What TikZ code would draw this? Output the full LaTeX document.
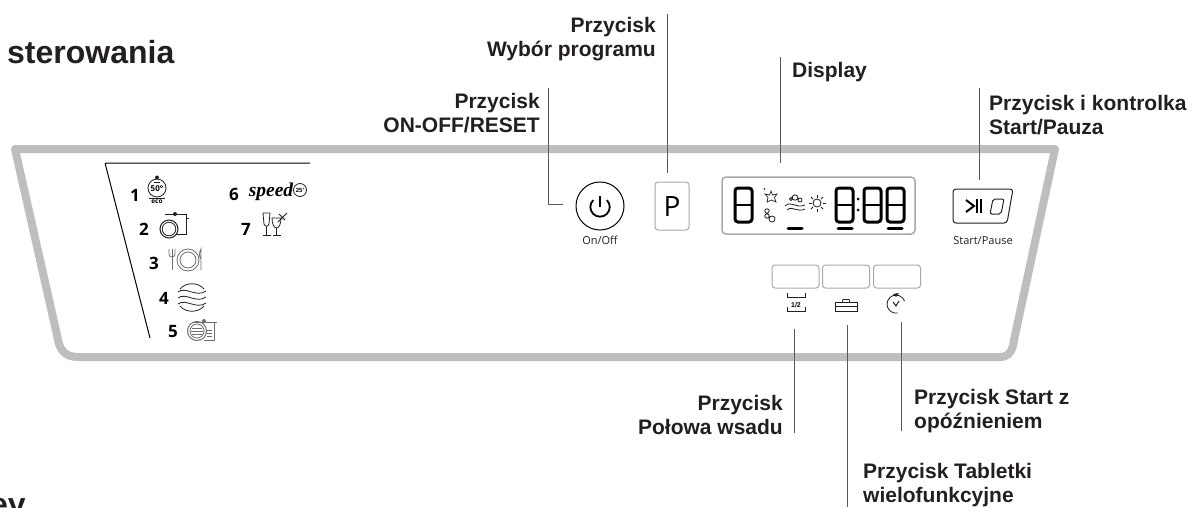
\documentclass[tikz,border=0pt]{standalone}
\usepackage{fontspec}
\setmainfont{Liberation Sans}
\newfontfamily\panelfont{Open Sans}
\newfontfamily\speedfont{Liberation Serif}
\definecolor{panelgrey}{HTML}{BCBEC0}
\definecolor{leadgrey}{HTML}{58595B}
\definecolor{iconk}{HTML}{231F20}
\definecolor{icong}{HTML}{6D6E71}
\definecolor{btn}{HTML}{A7A9AC}
\tikzset{
  lbl/.style={font=\fontsize{21}{24}\selectfont\bfseries,text=iconk,inner sep=0pt,align=#1},
  lbl/.default=left,
  leader/.style={draw=leadgrey,line width=1pt},
  num/.style={font=\panelfont\fontsize{17}{17}\selectfont\bfseries,text=black,inner sep=0pt},
  capt/.style={font=\panelfont\fontsize{11}{11}\selectfont,text=iconk,inner sep=0pt},
  pbtn/.style={draw=btn,line width=1pt,rounded corners=3pt,inner sep=0pt,minimum width=47pt,minimum height=23pt},
  ic/.style={draw=iconk,line width=.8pt},
  icg/.style={draw=icong,line width=.8pt},
}
\newcommand{\segd}[3]{% x left, width, bottom
  \draw[black,line width=3pt,rounded corners=3pt] (#1,188) rectangle (#1+#2,#3);
  \draw[black,line width=2.2pt] (#1,{(188+#3)/2}) -- (#1+#2,{(188+#3)/2});
}
\begin{document}
\begin{tikzpicture}[x=1pt,y=-1pt]
\useasboundingbox (0,0) rectangle (1192,507);
\clip (0,0) rectangle (1192,507);
\fill[white] (0,0) rectangle (1192,507);
% panel
\draw[panelgrey,line width=8pt,line join=round]
  (15,149) -- (57,335) .. controls (59,349) and (64,357) .. (78,357)
  -- (1000,357) .. controls (1009,357) and (1013,350) .. (1014,340) -- (1055,149) -- cycle;
% list bracket
\draw[black,line width=1pt,rounded corners=1pt] (310,163) -- (105,163) -- (150,338);
% numbers
\node[num] (n1) at (135,195) {1};
\node[num] (n2) at (144,229) {2};
\node[num] (n3) at (154,263) {3};
\node[num] (n4) at (164,298) {4};
\node[num] (n5) at (173,332) {5};
\node[num] (n6) at (234,194) {6};
\node[num] (n7) at (246,229) {7};
% icon 1
\draw[ic] (157,188) circle (9);
\fill[iconk] (157,177.5) circle (2);
\draw[ic] (149,198) -- (165,198);
\draw[ic,line width=.7pt] (154,182.5) -- (160,182.5);
\node[inner sep=0pt,font=\panelfont\fontsize{8}{8}\selectfont\bfseries] (t50) at (157,189) {50°};
\node[inner sep=0pt,font=\panelfont\fontsize{6.5}{6}\selectfont\bfseries] (eco) at (157,202) {eco};
% icon 2
\draw[ic,line width=1pt] (169,229) circle (9);
\draw[ic] (169,229) circle (6.8);
\draw[ic,line width=1pt] (165,214.5) -- (186,214.5) -- (186,234) -- (176,234);
\draw[ic] (186,218) -- (189,218);
\fill[iconk] (175,214) circle (2);
% icon 3
\draw[icg] (169,249) -- (169,254) .. controls (169,258) and (175,258) .. (175,254) -- (175,249);
\draw[icg] (172,249) -- (172,270);
\draw[icg] (188,260) circle (11);
\draw[icg] (188,260) circle (8);
\draw[icg] (201,270) -- (201,249) .. controls (199,252) and (199,257) .. (201,259);
% icon 4
\draw[ic] (180,289) .. controls (186,282) and (198,282) .. (204,289);
\draw[ic] (180,306) .. controls (186,313) and (198,313) .. (204,306);
\draw[ic] (178,292) .. controls (186,286) and (196,298) .. (206,291);
\draw[ic] (178,298) .. controls (186,292) and (196,304) .. (206,297);
\draw[ic] (178,304) .. controls (186,298) and (196,310) .. (206,303);
% icon 5
\draw[icg,line width=1pt] (197,331) circle (9.5);
\draw[icg] (197,331) circle (7);
\draw[icg] (192,328) -- (202,328) (191,331) -- (203,331) (192,334) -- (202,334);
\draw[icg,line width=1pt] (192,322) -- (214,322) -- (214,340) -- (204,340);
\draw[icg] (214,322) -- (217,322);
\draw[icg] (207,330) -- (212,330) (207,333) -- (212,333) (207,336) -- (212,336);
\fill[icong] (204,321) circle (2);
% speed
\node[inner sep=0pt,font=\speedfont\fontsize{19.5}{20}\selectfont\itshape\bfseries] (spd) at (271,192) {speed};
\node[draw=iconk,line width=.8pt,circle,minimum size=13pt,inner sep=0pt,font=\fontsize{6}{6}\selectfont\bfseries] (t25) at (300,190) {25'};
% glasses
\draw[ic] (263,213) -- (270,213) -- (269,224) .. controls (268,227) and (265,227) .. (264,224) -- cycle;
\draw[ic] (266.5,226) -- (266.5,235) (262.5,235.5) -- (270.5,235.5);
\draw[ic] (272,218) -- (281,218) .. controls (281,224) and (279,228) .. (276.5,228) .. controls (274,228) and (272,224) .. (272,218) -- cycle;
\draw[ic] (276.5,228) -- (276.5,235) (272.5,235.5) -- (280.5,235.5);
\draw[ic] (278,222) -- (287,213) (279,214) -- (285,220);
% power
\node[draw=black,line width=1pt,circle,minimum size=48pt,inner sep=0pt] (power) at (600,206) {};
\draw[black,line width=1.8pt] (606.9,200.1) arc[start angle=-45,end angle=225,radius=9.7];
\draw[black,line width=1.8pt] (600,196) -- (600,207);
\node[capt] (onoff) at (600,240) {On/Off};
% P
\node[draw=btn,line width=1pt,rounded corners=3pt,minimum width=34pt,minimum height=48pt,inner sep=0pt,font=\panelfont\fontsize{28}{28}\selectfont] (pkey) at (672,206) {P};
% display
\node[draw=btn,line width=1.5pt,rounded corners=4pt,minimum width=193pt,minimum height=57pt,inner sep=0pt] (disp) at (818.5,205.5) {};
\segd{735}{17}{222}
\segd{836}{17}{222}
\segd{864}{17}{222}
\segd{887}{17}{222}
\fill[black] (858,199) circle (1.5) (858,210) circle (1.5);
\foreach \xa in {795,845,895}{\draw[black,line width=3pt,line cap=round] (\xa-7,228) -- (\xa+7,228);}
% star
\draw[ic,line width=.7pt] (771,191) -- (772.5,195) -- (777,194) -- (774.5,197.5) -- (776,202) -- (771.5,200) -- (767,202) -- (768,197.5) -- (765,194) -- (769.5,195) -- cycle;
\draw[ic,line width=.7pt] (764,188) -- (765,190);
% bubbles
\draw[ic] (767,211) circle (2.2) (767,216) circle (2.2) (772,219) circle (3);
% waves
\draw[ic] (785,206) .. controls (791,200) and (796,209) .. (805,205);
\draw[ic] (787,210) .. controls (792,205) and (797,213) .. (805,209);
\draw[ic] (795,197.5) circle (2.7) (800,200) circle (2) (791,199) circle (1.5);
% sun
\draw[ic] (817,203) circle (4);
\foreach \a in {0,45,...,315}{\draw[ic] (817,203) ++(\a:5.5) -- ++(\a:3);}
% start pause
\draw[draw=iconk,line width=1pt,rounded corners=3pt] (953,189) -- (1013,189) -- (1007,223) -- (953,223) -- cycle;
\draw[black,line width=2pt] (966,200) -- (974,206) -- (966,212);
\draw[black,line width=1.5pt] (977,199) -- (977,213) (981,199) -- (981,213);
\draw[iconk,line width=1pt,rounded corners=2pt] (993,199) -- (1004,199) -- (1001,214) -- (990,214) -- cycle;
\node[capt] (spcap) at (983,241) {Start/Pause};
% lower keys
\node[pbtn] (k1) at (795.5,276.5) {};
\node[pbtn] (k2) at (846,276.5) {};
\node[pbtn] (k3) at (897,276.5) {};
\draw[ic] (787,293) -- (787,297.5) -- (805,297.5) -- (805,293);
\draw[ic] (787,307) -- (787,311) -- (805,311) -- (805,307);
\node[inner sep=0pt,font=\fontsize{7}{7}\selectfont\bfseries] (half) at (796,305) {1/2};
\draw[ic] (835,302.5) rectangle (857,311);
\draw[ic] (835,306.5) -- (857,306.5);
\draw[ic] (842,302.5) -- (843,299.5) -- (849,299.5) -- (850,302.5);
\draw[ic] (904.5,301) arc[start angle=-20,end angle=-280,radius=9];
\draw[ic,line width=1pt] (893,302) -- (896,306) -- (899,301);
\fill[iconk] (893,294) -- (899,293) -- (896,297) -- cycle;
% labels
\node[lbl=right,anchor=east] (lp) at (656,39) {Przycisk\\Wybór programu};
\node[lbl=right,anchor=east] (lo) at (540,113) {Przycisk\\ON-OFF/RESET};
\node[lbl=left,anchor=west] (ld) at (792,72) {Display};
\node[lbl=left,anchor=west] (ls) at (989,115) {Przycisk i kontrolka\\Start/Pauza};
\node[lbl=right,anchor=east] (lh) at (783,415) {Przycisk\\Połowa wsadu};
\node[lbl=left,anchor=west] (lde) at (914,411) {Przycisk Start z\\opóźnieniem};
\node[lbl=left,anchor=west] (lt) at (863,485) {Przycisk Tabletki\\wielofunkcyjne};
\node[anchor=base west,inner sep=0pt,font=\fontsize{32}{32}\selectfont\bfseries,text=iconk] (title) at (7,63) {sterowania};
\node[anchor=base west,inner sep=0pt,font=\fontsize{32}{32}\selectfont\bfseries,text=iconk] (cut) at (-10,515) {ey};
% leaders
\coordinate (a1) at (548,88); \coordinate (a2) at (563,204);
\draw[leader] (a1) |- (a2);
\coordinate (b1) at (667.5,14); \coordinate (b2) at (667.5,173);
\draw[leader] (b1) -- (b2);
\coordinate (c1) at (780,57); \coordinate (c2) at (780,163);
\draw[leader] (c1) -- (c2);
\coordinate (d1) at (979,88); \coordinate (d2) at (979,180);
\draw[leader] (d1) -- (d2);
\coordinate (e1) at (794,329); \coordinate (e2) at (794,433);
\draw[leader] (e1) -- (e2);
\coordinate (f1) at (847,325); \coordinate (f2) at (847,507);
\draw[leader] (f1) -- (f2);
\coordinate (g1) at (901,322); \coordinate (g2) at (901,431);
\draw[leader] (g1) -- (g2);
\end{tikzpicture}
\end{document}
